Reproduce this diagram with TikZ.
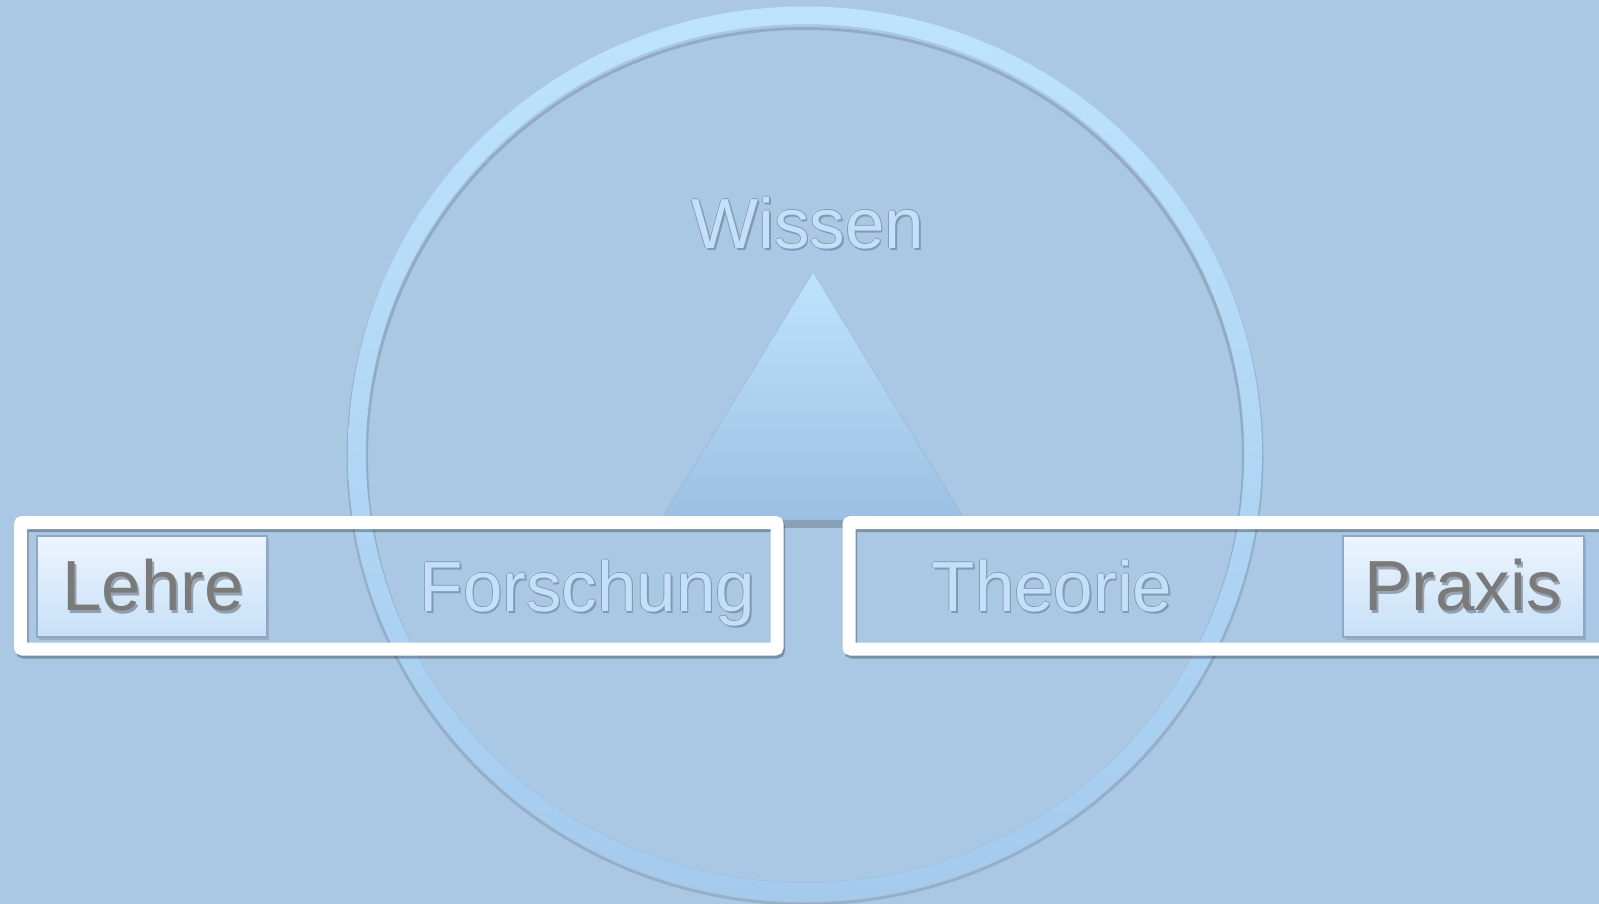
\documentclass[tikz,border=0pt]{standalone}
\usepackage{fontspec}
\setmainfont{Liberation Sans}
\usepackage{xcolor}
\usepackage{tikz}
\usetikzlibrary{calc,shadows}

\definecolor{hintergrund}{HTML}{AAC8E4}
\definecolor{ringoben}{HTML}{BEE3FC}
\definecolor{ringunten}{HTML}{A4CAEE}
\definecolor{glas}{HTML}{C4E0F8}
\definecolor{glasrand}{HTML}{8199B2}
\definecolor{schrift}{HTML}{7A7A7A}
\definecolor{kastenoben}{HTML}{EDF5FE}
\definecolor{kastenunten}{HTML}{C7E0F8}
\definecolor{kastenrand}{HTML}{8DA8C6}

\begin{document}
\begin{tikzpicture}[x=1pt,y=-1pt,
    wort/.style={font=\fontsize{71}{80}\selectfont, anchor=base, inner sep=0pt},
    rahmen/.style={draw=white, line width=13pt, rounded corners=2pt},
    rahmenschatten/.style={draw=black, opacity=0.28, line width=13pt, rounded corners=2pt},
    kasten/.style={draw=kastenrand, line width=1.5pt, top color=kastenoben, bottom color=kastenunten,
      minimum width=230pt, minimum height=101pt, inner sep=0pt,
      drop shadow={shadow xshift=2pt, shadow yshift=-3pt, opacity=0.35}}]
  \useasboundingbox (0,0) rectangle (1599,904);
  \fill[hintergrund] (0,0) rectangle (1599,904);

  % ring
  \draw[black, opacity=0.12, line width=3pt] (805,457) ellipse [x radius=457, y radius=447];
  \draw[black, opacity=0.14, line width=3pt] (805,457.5) ellipse [x radius=438.5, y radius=429];
  \shade[top color=ringoben, bottom color=ringunten, even odd rule]
    (805,453.5) ellipse [x radius=457, y radius=447]
    (805,453.5) ellipse [x radius=439, y radius=429];
  \draw[ringunten!80!black, opacity=0.2, line width=0.8pt] (805,453.5) ellipse [x radius=439, y radius=429];

  % dreieck
  \coordinate (spitze) at (813,272);
  \coordinate (links) at (661,520);
  \coordinate (rechts) at (965,520);
  \fill[black, opacity=0.2] (783,520) rectangle (843,528);
  \shade[top color=ringoben, bottom color=ringunten!95!black] (spitze) -- (rechts) -- (links) -- cycle;
  \draw[kastenrand, opacity=0.35, line width=1pt] (links) -- (spitze) -- (rechts);

  % Wissen
  \node[wort, white, opacity=0.7] (wissen-licht) at (807,248) {Wissen};
  \foreach \dx/\dy [count=\i] in {-1/0,1/0,0/-1,1.5/2}
    \node[wort, glasrand] (wissen-rand-\i) at ($(808,249)+(\dx,\dy)$) {Wissen};
  \node[wort, glas] (wissen) at (808,249) {Wissen};

  % rahmen
  \draw[rahmenschatten] (22,525.5) rectangle (778.5,652);
  \draw[rahmen] (20.5,522.5) rectangle (777,649);
  \draw[rahmenschatten] (850.5,525.5) rectangle (1640,652);
  \draw[rahmen] (849,522.5) rectangle (1640,649);

  % linke seite
  \node[kasten] (lehrekasten) at (152,586.5) {};
  \node[wort, black, opacity=0.3] (lehre-schatten) at (155,613) {Lehre};
  \node[wort, schrift] (lehre) at (153,610) {Lehre};
  \node[wort, white, opacity=0.7] (forschung-licht) at (586.5,610) {Forschung};
  \foreach \dx/\dy [count=\i] in {-1/0,1/0,0/-1,1.5/2}
    \node[wort, glasrand] (forschung-rand-\i) at ($(587.5,611)+(\dx,\dy)$) {Forschung};
  \node[wort, glas] (forschung) at (587.5,611) {Forschung};

  % rechte seite
  \node[wort, white, opacity=0.7] (theorie-licht) at (1051,610) {Theorie};
  \foreach \dx/\dy [count=\i] in {-1/0,1/0,0/-1,1.5/2}
    \node[wort, glasrand] (theorie-rand-\i) at ($(1052,611)+(\dx,\dy)$) {Theorie};
  \node[wort, glas] (theorie) at (1052,611) {Theorie};
  \node[kasten, minimum width=241pt] (praxiskasten) at (1463.5,586.5) {};
  \node[wort, black, opacity=0.3] (praxis-schatten) at (1465,613) {Praxis};
  \node[wort, schrift] (praxis) at (1463,610) {Praxis};
\end{tikzpicture}
\end{document}
